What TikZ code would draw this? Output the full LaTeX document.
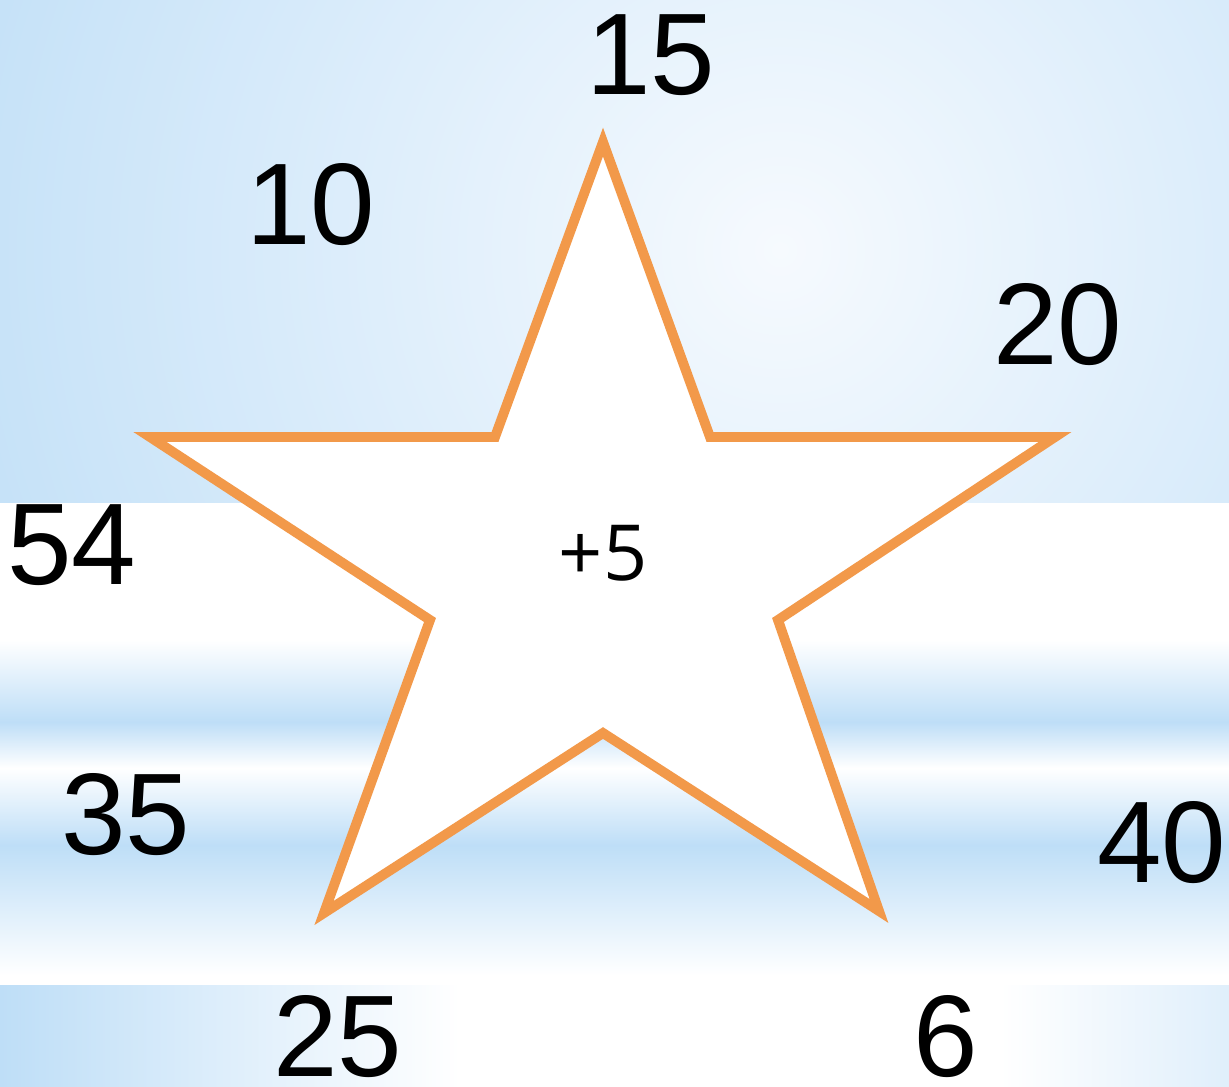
\documentclass[tikz,border=0pt]{standalone}
\usepackage{fontspec}
\setmainfont{Liberation Sans}
\newfontfamily\rulefont{Open Sans}
\usepackage{xcolor}
\usepackage{tikz}

\definecolor{starorange}{RGB}{242,153,74}
\definecolor{skyblue}{RGB}{190,222,247}
\definecolor{paleblue}{RGB}{246,250,254}

\begin{document}
\begin{tikzpicture}[
    x=0.01cm, y=-0.01cm,
    num/.style={font=\fontsize{33}{36}\selectfont, inner sep=0pt},
    rule/.style={font=\rulefont\fontsize{22}{26}\selectfont, inner sep=0pt},
    starline/.style={draw=starorange, line width=2.8pt, fill=white, line join=miter}
]
\useasboundingbox (0,0) rectangle (1229,1087);

% Background, top band
\begin{scope}
    \clip (0,0) rectangle (1229,503);
    \shade[inner color=paleblue, outer color=skyblue] (780,250) circle (950);
\end{scope}

% Background, middle band with stripes
\fill[white] (0,503) rectangle (1229,640);
\shade[top color=white, bottom color=skyblue] (0,640) rectangle (1229,722);
\shade[top color=skyblue, bottom color=white] (0,722) rectangle (1229,768);
\shade[top color=white, bottom color=skyblue] (0,768) rectangle (1229,845);
\shade[top color=skyblue, bottom color=white] (0,845) rectangle (1229,975);
\fill[white] (0,975) rectangle (1229,985);

% Background, bottom band
\fill[white] (0,985) rectangle (1229,1087);
\shade[left color=skyblue, right color=white] (0,985) rectangle (460,1087);
\shade[left color=white, right color=paleblue!60!skyblue] (1000,985) rectangle (1229,1087);

% The star
\coordinate (tip-top) at (603,142);
\coordinate (in-ur) at (710,437);
\coordinate (tip-right) at (1055,437);
\coordinate (in-lr) at (778,620);
\coordinate (tip-br) at (879,911);
\coordinate (in-bot) at (603,733);
\coordinate (tip-bl) at (324,913);
\coordinate (in-ll) at (430,620);
\coordinate (tip-left) at (150,437);
\coordinate (in-ul) at (495,437);
\draw[starline] (tip-top) -- (in-ur) -- (tip-right) -- (in-lr) -- (tip-br)
    -- (in-bot) -- (tip-bl) -- (in-ll) -- (tip-left) -- (in-ul) -- cycle;

% Rule in the middle
\node[rule] (add-five) at (603,553) {+5};

% Numbers round the star
\node[num] (num-15) at (651,55) {15};
\node[num] (num-10) at (311,205) {10};
\node[num] (num-20) at (1058,325) {20};
\node[num] (num-54) at (72,545) {54};
\node[num] (num-35) at (126,815) {35};
\node[num] (num-40) at (1162,843) {40};
\node[num] (num-25) at (338,1037) {25};
\node[num] (num-6) at (946,1037) {6};
\end{tikzpicture}
\end{document}
